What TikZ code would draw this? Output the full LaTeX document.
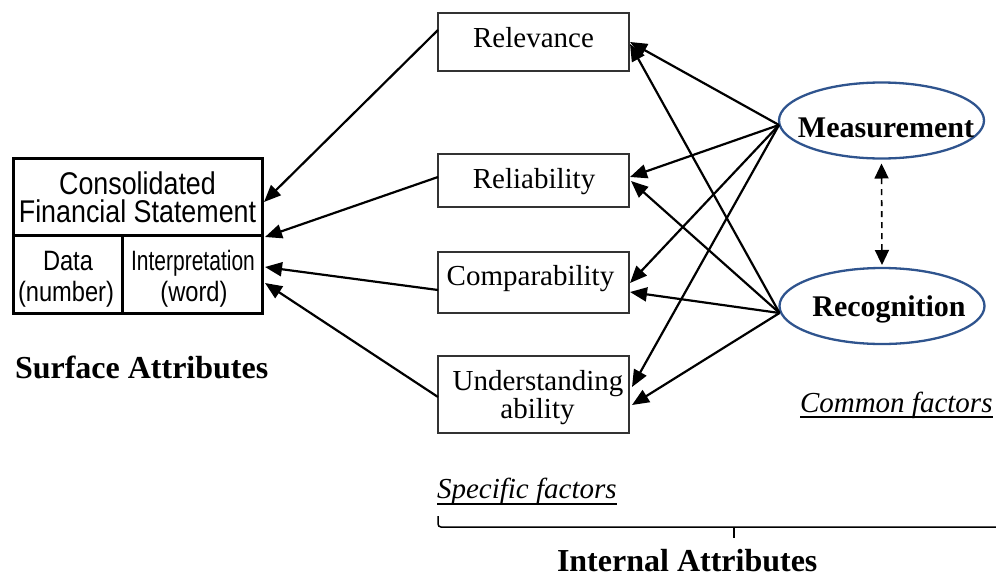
\documentclass[tikz,border=0pt]{standalone}
\usepackage{fontspec}
\setmainfont{Liberation Serif}
\newfontfamily\narrowsans{Liberation Sans}[FakeStretch=0.855]
\newfontfamily\narrowsmall{Liberation Sans}[FakeStretch=0.845]
\usetikzlibrary{arrows.meta,shapes.geometric,calc}
\definecolor{ellblue}{RGB}{47,84,142}

\begin{document}
\begin{tikzpicture}[x=1pt,y=-1pt,
  every node/.style={inner sep=0pt, outer sep=0pt},
  thickbox/.style={draw, line width=3pt, anchor=north west},
  sansbig/.style={font=\narrowsans\fontsize{31.4}{27.5}\selectfont, align=center},
  sanssmall/.style={font=\narrowsmall\fontsize{28}{28}\selectfont, anchor=base},
  factorbox/.style={draw=black!80, line width=1.4pt, minimum width=191, anchor=north},
  factortext/.style={font=\fontsize{29}{29}\selectfont, anchor=base},
  commonnode/.style={ellipse, draw=ellblue, line width=2.3pt, minimum width=205, minimum height=76},
  commontext/.style={font=\bfseries\fontsize{30}{30}\selectfont, anchor=base},
  heading/.style={font=\bfseries\fontsize{32}{32}\selectfont, anchor=base west},
  factorlabel/.style={font=\itshape\fontsize{29}{29}\selectfont, anchor=base west},
  link/.style={line width=2.2pt, -{Triangle[length=17pt,width=14pt]}},
  dlink/.style={line width=1.6pt, dash pattern=on 6pt off 5pt,
    {Triangle[length=15pt,width=14pt]}-{Triangle[length=15pt,width=14pt]}},
  uline/.style={line width=1.4pt}
]
\useasboundingbox (0,0) rectangle (996,576);

% consolidated statement block
\node[thickbox, minimum width=249, minimum height=77] (cfs) at (13,158) {};
\node[thickbox, minimum width=109, minimum height=78] (data) at (13,235) {};
\node[thickbox, minimum width=140, minimum height=78] (interp) at (122,235) {};
\node[sansbig] (cfsT) at (137.5,197.5) {Consolidated\\Financial Statement};
\node[sanssmall] (dataA) at (68,270.5) {Data};
\node[sanssmall] (dataB) at (66,301) {(number)};
\node[sanssmall] (interpA) at (193,270.5) {\addfontfeature{FakeStretch=0.75}Interpretation};
\node[sanssmall] (interpB) at (194,301) {(word)};
\node[heading] (surface) at (15,378) {Surface Attributes};

% specific factors
\node[factorbox, minimum height=58] (rel) at (533.5,13) {};
\node[factortext] (relT) at (533.5,47) {Relevance};
\node[factorbox, minimum height=53] (reli) at (533.5,154) {};
\node[factortext] (reliT) at (534,188) {Reliability};
\node[factorbox, minimum height=61] (comp) at (533.5,252) {};
\node[factortext] (compT) at (530.5,285) {Comparability};
\node[factorbox, minimum height=77] (und) at (533.5,356) {};
\node[factortext] (undA) at (538,390) {Understanding};
\node[factortext] (undB) at (537.5,418) {ability};

% common factors
\node[commonnode] (meas) at (881.5,120.5) {};
\node[commontext] (measT) at (886,137) {Measurement};
\node[commonnode] (rec) at (882,306) {};
\node[commontext] (recT) at (889,316) {Recognition};

% labels
\node[factorlabel] (common) at (800,412) {Common factors};
\draw[uline] ($(common.base west)+(0,5)$) -- ($(common.base east)+(0,5)$);
\node[factorlabel] (specific) at (437,498) {Specific factors};
\draw[uline] ($(specific.base west)+(0,6)$) -- ($(specific.base east)+(0,6)$);
\node[heading] (internal) at (557,571) {Internal Attributes};

% brace over the internal attributes
\coordinate (braceL) at (438,516);
\coordinate (braceR) at (998,527);
\coordinate (braceM) at (734,527);
\draw[line width=1.5pt, rounded corners=3pt] (braceL) |- (braceR);
\draw[line width=2.5pt] (braceM) -- ++(0,11);

% specific factors -> statement
\draw[link] ($(rel.west)+(0,-12)$) -- ($(cfs.east)+(2,5.5)$);
\draw[link] ($(reli.west)+(0,-3.5)$) -- ($(cfs.south east)+(3,2)$);
\draw[link] ($(comp.west)+(0,7.5)$) -- ($(interp.east)+(3,-7)$);
\draw[link] ($(und.west)+(0,2.5)$) -- ($(interp.east)+(3,9)$);

% common factors -> specific factors
\coordinate (mOut) at ($(meas.west)+(0,4.5)$);
\coordinate (rOut) at ($(rec.west)+(0,7)$);
\draw[link] (mOut) -- ($(rel.east)+(1,0)$);
\draw[link] (mOut) -- ($(reli.east)+(1,-3.5)$);
\draw[link] (mOut) -- ($(comp.east)+(1,0.5)$);
\draw[link] (mOut) -- ($(und.east)+(3,-7.5)$);
\draw[link] (rOut) -- ($(rel.east)+(1,2)$);
\draw[link] (rOut) -- ($(reli.east)+(2,0.5)$);
\draw[link] (rOut) -- ($(comp.east)+(1,9.5)$);
\draw[link] (rOut) -- ($(und.east)+(3,10.5)$);

% measurement <-> recognition
\draw[dlink] ($(meas.south)+(0,5)$) -- ($(rec.north)+(0,-3)$);
\end{tikzpicture}
\end{document}
